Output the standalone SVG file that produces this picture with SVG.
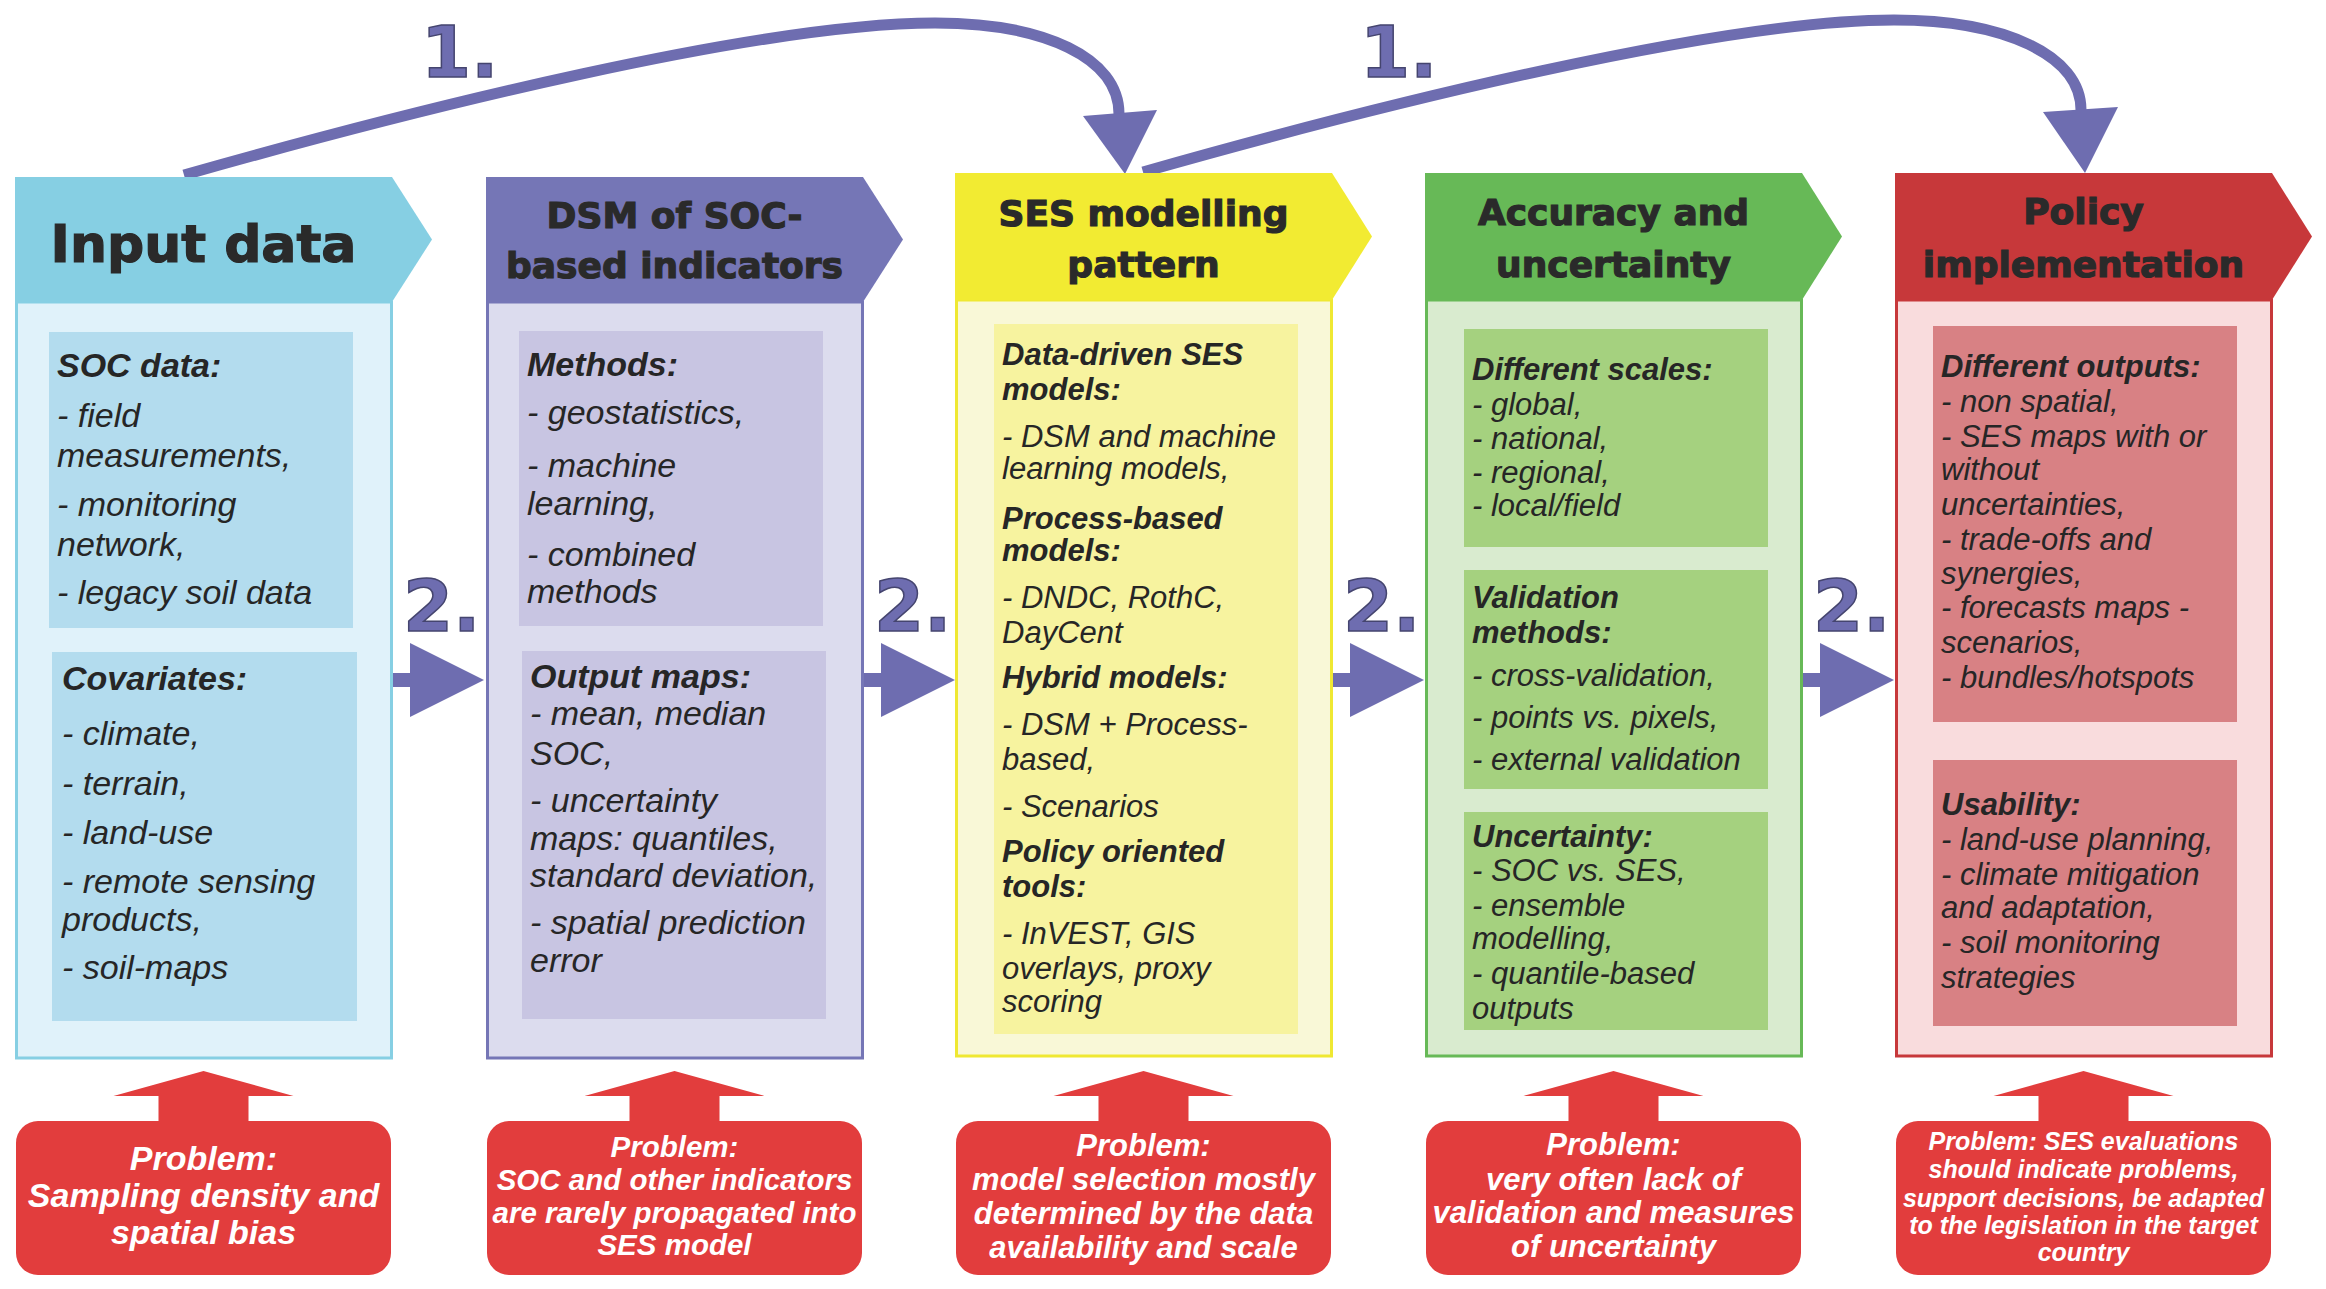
<svg xmlns="http://www.w3.org/2000/svg" xmlns:xlink="http://www.w3.org/1999/xlink" width="2326" height="1289" viewBox="0 0 2326 1289">
<style>
.hd{font-family:"DejaVu Sans","Liberation Sans",sans-serif;font-weight:bold;fill:#2a2a2a;stroke:#2a2a2a;stroke-width:1.2;text-anchor:middle;font-size:36px}
.t{font-family:"Liberation Sans",Arial,sans-serif;font-style:italic;fill:#262626}
.b{font-weight:bold}
.s34{font-size:34px}
.s31{font-size:31px}
.pr{font-family:"Liberation Sans",Arial,sans-serif;font-style:italic;font-weight:bold;fill:#ffffff;text-anchor:middle}
.num{font-family:"DejaVu Sans","Liberation Sans",sans-serif;font-weight:bold;font-size:72px;fill:#6e6db0;stroke:#45456f;stroke-width:1.5}
.arc{fill:none;stroke:#6e6db0;stroke-width:11}
.pur{fill:#6e6db0}
.prob{fill:#e23d3d}
</style>
<defs>
<path id="callout" d="M22,0 H142.5 V-25 H97.5 L187.5,-50 L277.5,-25 H232.5 V0 H353 A22,22 0 0 1 375,22 V132 A22,22 0 0 1 353,154 H22 A22,22 0 0 1 0,132 V22 A22,22 0 0 1 22,0 Z"/>
</defs>
<rect width="2326" height="1289" fill="#ffffff"/>

<g id="connectors">
<path class="arc" d="M184,175 C420,108 760,23 935,23 C1045,23 1119,58 1119,114"/>
<polygon class="pur" points="1083,116 1157,110 1125,174"/>
<path class="arc" d="M1143,172 C1379,105 1719,20 1894,20 C2004,20 2081,55 2081,110"/>
<polygon class="pur" points="2043,112 2118,107 2085,173"/>
<text class="num" x="421" y="77">1.</text>
<text class="num" x="1360" y="77">1.</text>
<path class="pur" d="M392,673 H410 V643 L484,680 L410,717 V687 H392 Z"/>
<path class="pur" d="M863,673 H881 V643 L955,680 L881,717 V687 H863 Z"/>
<path class="pur" d="M1332,673 H1350 V643 L1424,680 L1350,717 V687 H1332 Z"/>
<path class="pur" d="M1802,673 H1820 V643 L1894,680 L1820,717 V687 H1802 Z"/>
<text class="num" x="403" y="631">2.</text>
<text class="num" x="874" y="631">2.</text>
<text class="num" x="1343" y="631">2.</text>
<text class="num" x="1813" y="631">2.</text>
</g>

<g id="input-data">
<rect x="16.5" y="302" width="375" height="756" fill="#e0f2fa" stroke="#86cfe3" stroke-width="3"/>
<polygon points="15,177 392,177 432,239.5 392,302 15,302" fill="#86cfe3"/>
<text class="hd" x="203.5" y="262" style="font-size:52px">Input data</text>
<rect x="49" y="332" width="304" height="296" fill="#b3dcee"/>
<rect x="52" y="652" width="305" height="369" fill="#b3dcee"/>
<g class="t s34">
<text x="57" y="377" class="b">SOC data:</text>
<text x="57" y="427">- field</text>
<text x="57" y="467">measurements,</text>
<text x="57" y="516">- monitoring</text>
<text x="57" y="556">network,</text>
<text x="57" y="604">- legacy soil data</text>
<text x="62" y="690" class="b">Covariates:</text>
<text x="62" y="745">- climate,</text>
<text x="62" y="795">- terrain,</text>
<text x="62" y="844">- land-use</text>
<text x="62" y="893">- remote sensing</text>
<text x="62" y="931">products,</text>
<text x="62" y="979">- soil-maps</text>
</g>
</g>

<g id="dsm">
<rect x="487.5" y="302" width="375" height="756" fill="#dcdcee" stroke="#7576b6" stroke-width="3"/>
<polygon points="486,177 863,177 903,239.5 863,302 486,302" fill="#7576b6"/>
<text class="hd" x="674.5" y="228">DSM of SOC-</text>
<text class="hd" x="674.5" y="278">based indicators</text>
<rect x="519" y="331" width="304" height="295" fill="#c8c5e2"/>
<rect x="522" y="651" width="304" height="368" fill="#c8c5e2"/>
<g class="t s34">
<text x="527" y="376" class="b">Methods:</text>
<text x="527" y="424">- geostatistics,</text>
<text x="527" y="477">- machine</text>
<text x="527" y="515">learning,</text>
<text x="527" y="566">- combined</text>
<text x="527" y="603">methods</text>
<text x="530" y="688" class="b">Output maps:</text>
<text x="530" y="725">- mean, median</text>
<text x="530" y="765">SOC,</text>
<text x="530" y="812">- uncertainty</text>
<text x="530" y="850">maps: quantiles,</text>
<text x="530" y="887">standard deviation,</text>
<text x="530" y="934">- spatial prediction</text>
<text x="530" y="972">error</text>
</g>
</g>

<g id="ses">
<rect x="956.5" y="300" width="375" height="756" fill="#f9f8d7" stroke="#efe832" stroke-width="3"/>
<polygon points="955,173 1332,173 1372,236.5 1332,300 955,300" fill="#f2eb32"/>
<text class="hd" x="1143.5" y="226">SES modelling</text>
<text class="hd" x="1143.5" y="277">pattern</text>
<rect x="994" y="324" width="304" height="710" fill="#f7f39f"/>
<g class="t s31">
<text x="1002" y="365" class="b">Data-driven SES</text>
<text x="1002" y="400" class="b">models:</text>
<text x="1002" y="447">- DSM and machine</text>
<text x="1002" y="479">learning models,</text>
<text x="1002" y="529" class="b">Process-based</text>
<text x="1002" y="561" class="b">models:</text>
<text x="1002" y="608">- DNDC, RothC,</text>
<text x="1002" y="643">DayCent</text>
<text x="1002" y="688" class="b">Hybrid models:</text>
<text x="1002" y="735">- DSM + Process-</text>
<text x="1002" y="770">based,</text>
<text x="1002" y="817">- Scenarios</text>
<text x="1002" y="862" class="b">Policy oriented</text>
<text x="1002" y="897" class="b">tools:</text>
<text x="1002" y="944">- InVEST, GIS</text>
<text x="1002" y="979">overlays, proxy</text>
<text x="1002" y="1012">scoring</text>
</g>
</g>

<g id="accuracy">
<rect x="1426.5" y="300" width="375" height="756" fill="#d9ebcf" stroke="#67b957" stroke-width="3"/>
<polygon points="1425,173 1802,173 1842,236.5 1802,300 1425,300" fill="#67b957"/>
<text class="hd" x="1613.5" y="225">Accuracy and</text>
<text class="hd" x="1613.5" y="277">uncertainty</text>
<rect x="1464" y="329" width="304" height="218" fill="#a5d17f"/>
<rect x="1464" y="570" width="304" height="219" fill="#a5d17f"/>
<rect x="1464" y="812" width="304" height="218" fill="#a5d17f"/>
<g class="t s31">
<text x="1472" y="380" class="b">Different scales:</text>
<text x="1472" y="415">- global,</text>
<text x="1472" y="449">- national,</text>
<text x="1472" y="483">- regional,</text>
<text x="1472" y="516">- local/field</text>
<text x="1472" y="608" class="b">Validation</text>
<text x="1472" y="643" class="b">methods:</text>
<text x="1472" y="686">- cross-validation,</text>
<text x="1472" y="728">- points vs. pixels,</text>
<text x="1472" y="770">- external validation</text>
<text x="1472" y="847" class="b">Uncertainty:</text>
<text x="1472" y="881">- SOC vs. SES,</text>
<text x="1472" y="916">- ensemble</text>
<text x="1472" y="949">modelling,</text>
<text x="1472" y="984">- quantile-based</text>
<text x="1472" y="1019">outputs</text>
</g>
</g>

<g id="policy">
<rect x="1896.5" y="300" width="375" height="756" fill="#f9dcdd" stroke="#c7383a" stroke-width="3"/>
<polygon points="1895,173 2272,173 2312,236.5 2272,300 1895,300" fill="#c7383a"/>
<text class="hd" x="2083.5" y="224">Policy</text>
<text class="hd" x="2083.5" y="277">implementation</text>
<rect x="1933" y="326" width="304" height="396" fill="#d88184"/>
<rect x="1933" y="760" width="304" height="266" fill="#d88184"/>
<g class="t s31">
<text x="1941" y="377" class="b">Different outputs:</text>
<text x="1941" y="412">- non spatial,</text>
<text x="1941" y="447">- SES maps with or</text>
<text x="1941" y="480">without</text>
<text x="1941" y="515">uncertainties,</text>
<text x="1941" y="550">- trade-offs and</text>
<text x="1941" y="584">synergies,</text>
<text x="1941" y="618">- forecasts maps -</text>
<text x="1941" y="653">scenarios,</text>
<text x="1941" y="688">- bundles/hotspots</text>
<text x="1941" y="815" class="b">Usability:</text>
<text x="1941" y="850">- land-use planning,</text>
<text x="1941" y="885">- climate mitigation</text>
<text x="1941" y="918">and adaptation,</text>
<text x="1941" y="953">- soil monitoring</text>
<text x="1941" y="988">strategies</text>
</g>
</g>

<g id="problem-1">
<use xlink:href="#callout" href="#callout" class="prob" transform="translate(16,1121)"/>
<g class="pr" style="font-size:34px">
<text x="203.5" y="1170">Problem:</text>
<text x="203.5" y="1207">Sampling density and</text>
<text x="203.5" y="1244">spatial bias</text>
</g>
</g>
<g id="problem-2">
<use xlink:href="#callout" href="#callout" class="prob" transform="translate(487,1121)"/>
<g class="pr" style="font-size:29.5px">
<text x="674.5" y="1157">Problem:</text>
<text x="674.5" y="1190">SOC and other indicators</text>
<text x="674.5" y="1223">are rarely propagated into</text>
<text x="674.5" y="1255">SES model</text>
</g>
</g>
<g id="problem-3">
<use xlink:href="#callout" href="#callout" class="prob" transform="translate(956,1121)"/>
<g class="pr" style="font-size:31px">
<text x="1143.5" y="1156">Problem:</text>
<text x="1143.5" y="1190">model selection mostly</text>
<text x="1143.5" y="1224">determined by the data</text>
<text x="1143.5" y="1258">availability and scale</text>
</g>
</g>
<g id="problem-4">
<use xlink:href="#callout" href="#callout" class="prob" transform="translate(1426,1121)"/>
<g class="pr" style="font-size:31px">
<text x="1613.5" y="1155">Problem:</text>
<text x="1613.5" y="1190">very often lack of</text>
<text x="1613.5" y="1223">validation and measures</text>
<text x="1613.5" y="1257">of uncertainty</text>
</g>
</g>
<g id="problem-5">
<use xlink:href="#callout" href="#callout" class="prob" transform="translate(1896,1121)"/>
<g class="pr" style="font-size:25px">
<text x="2083.5" y="1150">Problem: SES evaluations</text>
<text x="2083.5" y="1178">should indicate problems,</text>
<text x="2083.5" y="1207">support decisions, be adapted</text>
<text x="2083.5" y="1234">to the legislation in the target</text>
<text x="2083.5" y="1261">country</text>
</g>
</g>
</svg>
